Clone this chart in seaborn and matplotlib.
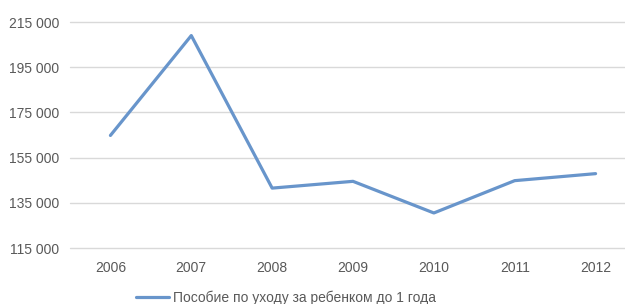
import matplotlib
matplotlib.use("Agg")
import matplotlib.pyplot as plt
import pandas as pd
import seaborn as sns

# data
years = ["2006", "2007", "2008", "2009", "2010", "2011", "2012"]
benefit = [164800, 209000, 141500, 144500, 130500, 144800, 147900]
series_name = "Пособие по уходу за ребенком до 1 года"

df = pd.DataFrame({"year": years, "value": benefit})

sns.set_style("white")
plt.rcParams['font.family'] = ['Liberation Sans', 'DejaVu Sans']

fig = plt.figure(figsize=(6.25, 3.04), dpi=100)
ax = fig.add_axes([70 / 625, 1 - 248 / 304, 566 / 625, 226 / 304])

sns.lineplot(data=df, x="year", y="value", ax=ax, color="#6895cb",
             linewidth=2.3, sort=False, label=series_name)

ax.set_ylim(115000, 215000)
ax.set_yticks(range(115000, 215001, 20000))
ax.set_yticklabels([f"{v:,}".replace(",", " ") for v in range(115000, 215001, 20000)])
ax.set_xlim(-0.5, 6.5)
ax.grid(axis="y", color="#d9d9d9", linewidth=1)
for gl in ax.get_ygridlines():
    gl.set_clip_on(False)
ax.set_axisbelow(True)
for s in ax.spines.values():
    s.set_visible(False)
ax.tick_params(axis="both", length=0, labelsize=10, labelcolor="#595959")
ax.tick_params(axis="x", pad=9)
ax.tick_params(axis="y", pad=8)
ax.set_xlabel("")
ax.set_ylabel("")

ax.legend(loc="center", bbox_to_anchor=(286 / 625, 1 - 298 / 304),
          bbox_transform=fig.transFigure, frameon=False, fontsize=10,
          handlelength=2.4, handletextpad=0.3, labelcolor="#595959")

fig.savefig("out.png", dpi=100)
